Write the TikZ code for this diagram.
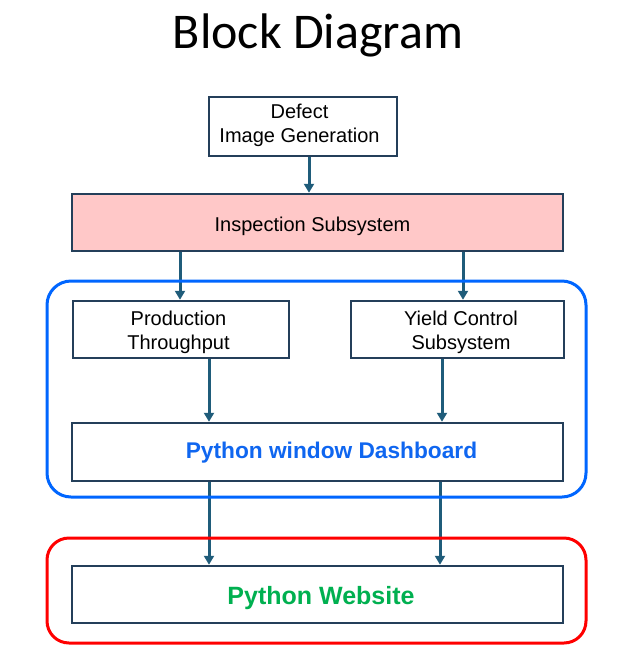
\documentclass[tikz,border=0pt]{standalone}
\usepackage{fontspec}
\setmainfont{Liberation Sans}
\newfontfamily\titlefont{Carlito}
\usetikzlibrary{arrows.meta,calc}
\definecolor{boxline}{HTML}{243F5A}
\definecolor{arrowc}{HTML}{1F5C7A}
\definecolor{pinkfill}{HTML}{FFC8C8}
\definecolor{grpblue}{HTML}{0066FF}
\definecolor{grpred}{HTML}{FF0000}
\definecolor{txtblue}{HTML}{0F66F0}
\definecolor{txtgreen}{HTML}{00B050}
\begin{document}
\begin{tikzpicture}[x=1pt,y=-1pt,
  blk/.style={draw=boxline, line width=2.5pt, fill=white, inner sep=0pt},
  txt/.style={inner sep=0pt, align=center, font=\fontsize{20}{24}\selectfont, text=black},
  arr/.style={draw=arrowc, line width=3pt, -{Triangle[length=9pt,width=10pt]}},
  grp/.style={line width=3pt, rounded corners=24pt}]
\useasboundingbox (0,0) rectangle (639,657);
\fill[white] (0,0) rectangle (639,657);
\node[font=\titlefont\fontsize{50}{58}\selectfont] (title) at (318,35) {Block Diagram};
\node[blk, minimum width=188pt, minimum height=59pt] (defect) at (303,126.5) {};
\node[blk, fill=pinkfill, minimum width=491pt, minimum height=57pt] (insp) at (317.5,222.5) {};
\node[blk, minimum width=216pt, minimum height=57pt] (prod) at (181,329.5) {};
\node[blk, minimum width=213pt, minimum height=57pt] (yield) at (457.5,329.5) {};
\node[blk, minimum width=491pt, minimum height=58pt] (dash) at (317.5,452) {};
\node[blk, minimum width=491pt, minimum height=57pt] (web) at (317.5,594.5) {};
\node[txt] (defectt) at ([shift={(-3.5,-1)}]defect.center) {Defect\\Image Generation};
\node[txt] (inspt) at ([shift={(-5,4)}]insp.center) {Inspection Subsystem};
\node[txt] (prodt) at ([shift={(-2.5,3)}]prod.center) {Production\\Throughput};
\node[txt] (yieldt) at ([shift={(3.5,3)}]yield.center) {Yield Control\\Subsystem};
\node[txt, font=\bfseries\fontsize{22.7}{27}\selectfont, text=txtblue] (dasht) at ([shift={(14,1)}]dash.center) {Python window Dashboard};
\node[txt, font=\bfseries\fontsize{25}{29}\selectfont, text=txtgreen] (webt) at ([shift={(3.5,4)}]web.center) {Python Website};
\draw[arr] ([xshift=6pt]defect.south) -- ([xshift=6pt]defect.south |- insp.north);
\draw[arr] ([xshift=-137.5pt]insp.south) -- ([xshift=-137.5pt]insp.south |- prod.north);
\draw[arr] ([xshift=145.5pt]insp.south) -- ([xshift=145.5pt]insp.south |- yield.north);
\draw[arr] ([xshift=28pt]prod.south) -- ([xshift=28pt]prod.south |- dash.north);
\draw[arr] ([xshift=-15.5pt]yield.south) -- ([xshift=-15.5pt]yield.south |- dash.north);
\draw[arr] ([xshift=-108.5pt]dash.south) -- ([xshift=-108.5pt]dash.south |- web.north);
\draw[arr] ([xshift=122.5pt]dash.south) -- ([xshift=122.5pt]dash.south |- web.north);
\draw[grp, draw=grpblue] (47,281) rectangle (586,497);
\draw[grp, draw=grpred, rounded corners=22pt] (47,538) rectangle (586,643);
\end{tikzpicture}
\end{document}
